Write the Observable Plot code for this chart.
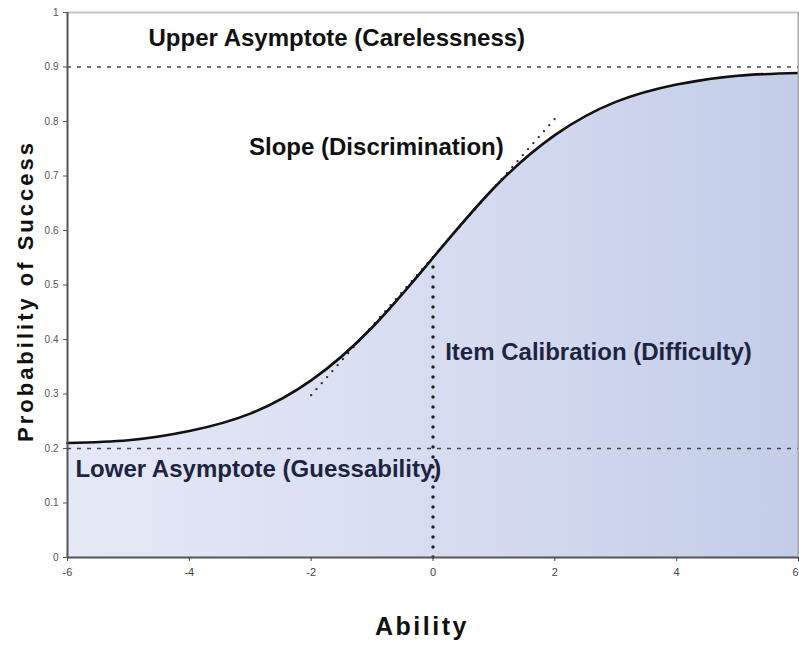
<!DOCTYPE html>
<html>
<head>
<meta charset="utf-8">
<script src="https://cdn.jsdelivr.net/npm/d3@7"></script>
<script src="https://cdn.jsdelivr.net/npm/@observablehq/plot@0.6"></script>
<style>
  html, body { margin: 0; padding: 0; background: #ffffff; }
  #chart { width: 799px; height: 645px; }
</style>
</head>
<body>
<div id="chart"></div>
<script>
// Ability values (x) and read-off probability of success (y)
const ability = [-6, -5, -4, -3, -2, -1, 0, 1, 2, 3, 4, 5, 6];
const probability = [0.21, 0.215, 0.232, 0.264, 0.325, 0.422, 0.55, 0.678, 0.775, 0.836, 0.868, 0.884, 0.889];

// Asymptotes
const upperAsymptote = 0.9;
const lowerAsymptote = 0.2;

// Slope tangent segment (ability, probability)
const tangentAbility = [-2, 2];
const tangentProbability = [0.298, 0.805];

// Difficulty (item calibration)
const difficulty = 0;

// Tick values
const xTicks = [-6, -4, -2, 0, 2, 4];
const xLastTick = [6];
const yTicks = [0, 0.1, 0.2, 0.3, 0.4, 0.5, 0.6, 0.7, 0.8, 0.9, 1];
const yTickLabels = ["0", "0.1", "0.2", "0.3", "0.4", "0.5", "0.6", "0.7", "0.8", "0.9", "1"];

// Annotation texts and anchors (data units)
const noteTexts = ["Upper Asymptote (Carelessness)", "Slope (Discrimination)", "Item Calibration (Difficulty)", "Lower Asymptote (Guessability)"];
const noteAbility = [-4.67, -3.02, 0.2, -5.87];
const noteProbability = [0.952, 0.752, 0.376, 0.162];
const noteColors = ["#111111", "#111111", "#1e2440", "#1e2440"];

const xLabel = "Ability";
const yLabel = "Probability of Success";

const curve = ability.map((a, i) => ({x: a, y: probability[i]}));
const tangent = tangentAbility.map((a, i) => ({x: a, y: tangentProbability[i]}));
const notes = noteTexts.map((t, i) => ({text: t, x: noteAbility[i], y: noteProbability[i], color: noteColors[i]}));
const yLabelMap = new Map(yTicks.map((v, i) => [v, yTickLabels[i]]));
const yAtDifficulty = probability[ability.indexOf(difficulty)];

const gradientDefs = () => {
  const defs = d3.create("svg:defs");
  const g = defs.append("linearGradient")
    .attr("id", "fillGrad")
    .attr("x1", 0).attr("x2", 1).attr("y1", 0).attr("y2", 0);
  g.append("stop").attr("offset", "0%").attr("stop-color", "#e5e8f6");
  g.append("stop").attr("offset", "50%").attr("stop-color", "#d7ddf1");
  g.append("stop").attr("offset", "100%").attr("stop-color", "#c3cde8");
  return defs.node();
};

const font = "'Liberation Sans', Arial, sans-serif";

const chart = Plot.plot({
  width: 799,
  height: 645,
  marginLeft: 67,
  marginRight: 1,
  marginTop: 12,
  marginBottom: 88,
  style: {fontFamily: font, background: "#ffffff", overflow: "visible"},
  x: {domain: [-6, 6]},
  y: {domain: [0, 1]},
  marks: [
    gradientDefs,
    Plot.areaY(curve, {x: "x", y: "y", curve: "natural", fill: "url(#fillGrad)"}),
    Plot.ruleY([upperAsymptote, lowerAsymptote], {stroke: "#444", strokeWidth: 1.3, strokeDasharray: "4,6"}),
    Plot.ruleX([difficulty], {y1: 0, y2: yAtDifficulty, stroke: "#222", strokeWidth: 3.5, strokeDasharray: "0,10", strokeLinecap: "round"}),
    Plot.line(tangent, {x: "x", y: "y", stroke: "#333", strokeWidth: 2.4, strokeDasharray: "0,8", strokeLinecap: "round"}),
    Plot.line(curve, {x: "x", y: "y", curve: "natural", stroke: "#111", strokeWidth: 2.6}),
    Plot.ruleY([1], {stroke: "#c4c4c4", strokeWidth: 2}),
    Plot.ruleX([6], {stroke: "#a8a8a8", strokeWidth: 2}),
    Plot.ruleX([-6], {stroke: "#555", strokeWidth: 2}),
    Plot.ruleY([0], {stroke: "#555", strokeWidth: 2}),
    Plot.axisX({ticks: xTicks, tickSize: 4, tickPadding: 7, fontSize: 11, color: "#444", label: null, tickFormat: d => String(d)}),
    Plot.axisX({ticks: xLastTick, tickSize: 4, tickPadding: 7, fontSize: 11, color: "#444", label: null, textAnchor: "end", tickFormat: d => String(d)}),
    Plot.axisY({ticks: yTicks, tickSize: 4, tickPadding: 5, fontSize: 10, color: "#555", label: null, tickFormat: d => yLabelMap.get(d)}),
    Plot.text(notes, {x: "x", y: "y", text: "text", fill: "color", textAnchor: "start", fontSize: 24, fontWeight: "bold"}),
    Plot.text([xLabel], {frameAnchor: "bottom", textAnchor: "middle", dy: 77, dx: -11, fontSize: 25, fontWeight: "bold", fill: "#111"}),
    Plot.text([yLabel], {frameAnchor: "left", textAnchor: "middle", rotate: -90, dx: -42, dy: 6, fontSize: 22, fontWeight: "bold", fill: "#111"})
  ]
});

document.getElementById("chart").appendChild(chart);
// letter spacing for axis titles
d3.select(chart).selectAll("text").filter(function() { return this.textContent === yLabel; }).attr("letter-spacing", "3px");
d3.select(chart).selectAll("text").filter(function() { return this.textContent === xLabel; }).attr("letter-spacing", "2.5px");
</script>
</body>
</html>
